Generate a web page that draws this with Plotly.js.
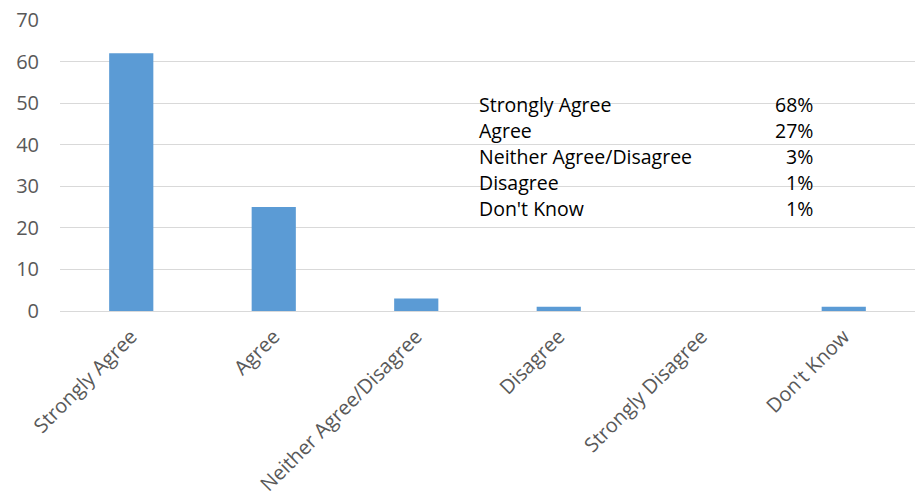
<!DOCTYPE html>
<html>
<head>
<meta charset="utf-8">
<script src="https://cdn.plot.ly/plotly-3.0.1.min.js"></script>
<style>html,body{margin:0;padding:0;background:#fff;}#chart{width:923px;height:504px;}</style>
</head>
<body>
<div id="chart"></div>
<script>
const categories = ["Strongly Agree", "Agree", "Neither Agree/Disagree", "Disagree", "Strongly Disagree", "Don't Know"];
const counts = [62, 25, 3, 1, 0, 1];
const tableLabels = ["Strongly Agree", "Agree", "Neither Agree/Disagree", "Disagree", "Don't Know"];
const tablePercents = ["68%", "27%", "3%", "1%", "1%"];
const tableRowY = [49.6, 43.4, 37.1, 30.9, 24.6];

const font = "Open Sans, Noto Sans, sans-serif";
const annotations = [];
tableLabels.forEach((lab, i) => {
  annotations.push({xref: 'paper', yref: 'y', x: 0.488, y: tableRowY[i], text: lab, showarrow: false,
    xanchor: 'left', yanchor: 'middle', font: {family: font, size: 19.5, color: '#000'}});
  annotations.push({xref: 'paper', yref: 'y', x: 0.883, y: tableRowY[i], text: tablePercents[i], showarrow: false,
    xanchor: 'right', yanchor: 'middle', font: {family: font, size: 19.5, color: '#000'}});
});

Plotly.newPlot('chart', [{
  type: 'bar', x: categories, y: counts,
  marker: {color: '#5B9BD5'}
}], {
  width: 923, height: 504,
  margin: {l: 60, r: 8, t: 20, b: 193},
  paper_bgcolor: '#fff', plot_bgcolor: '#fff',
  bargap: 0.69,
  showlegend: false,
  xaxis: {tickangle: -45, tickfont: {family: font, size: 20, color: '#595959'}, showgrid: false,
    linecolor: '#d9d9d9', showline: true, ticks: '', ticklen: 0, ticklabelstandoff: 5},
  yaxis: {range: [0, 70], dtick: 10, tickfont: {family: font, size: 20, color: '#595959'},
    gridcolor: '#d9d9d9', zeroline: false, showline: false, ticks: '', ticklabelstandoff: 20},
  annotations: annotations
}, {displayModeBar: false, staticPlot: true});
</script>
</body>
</html>
